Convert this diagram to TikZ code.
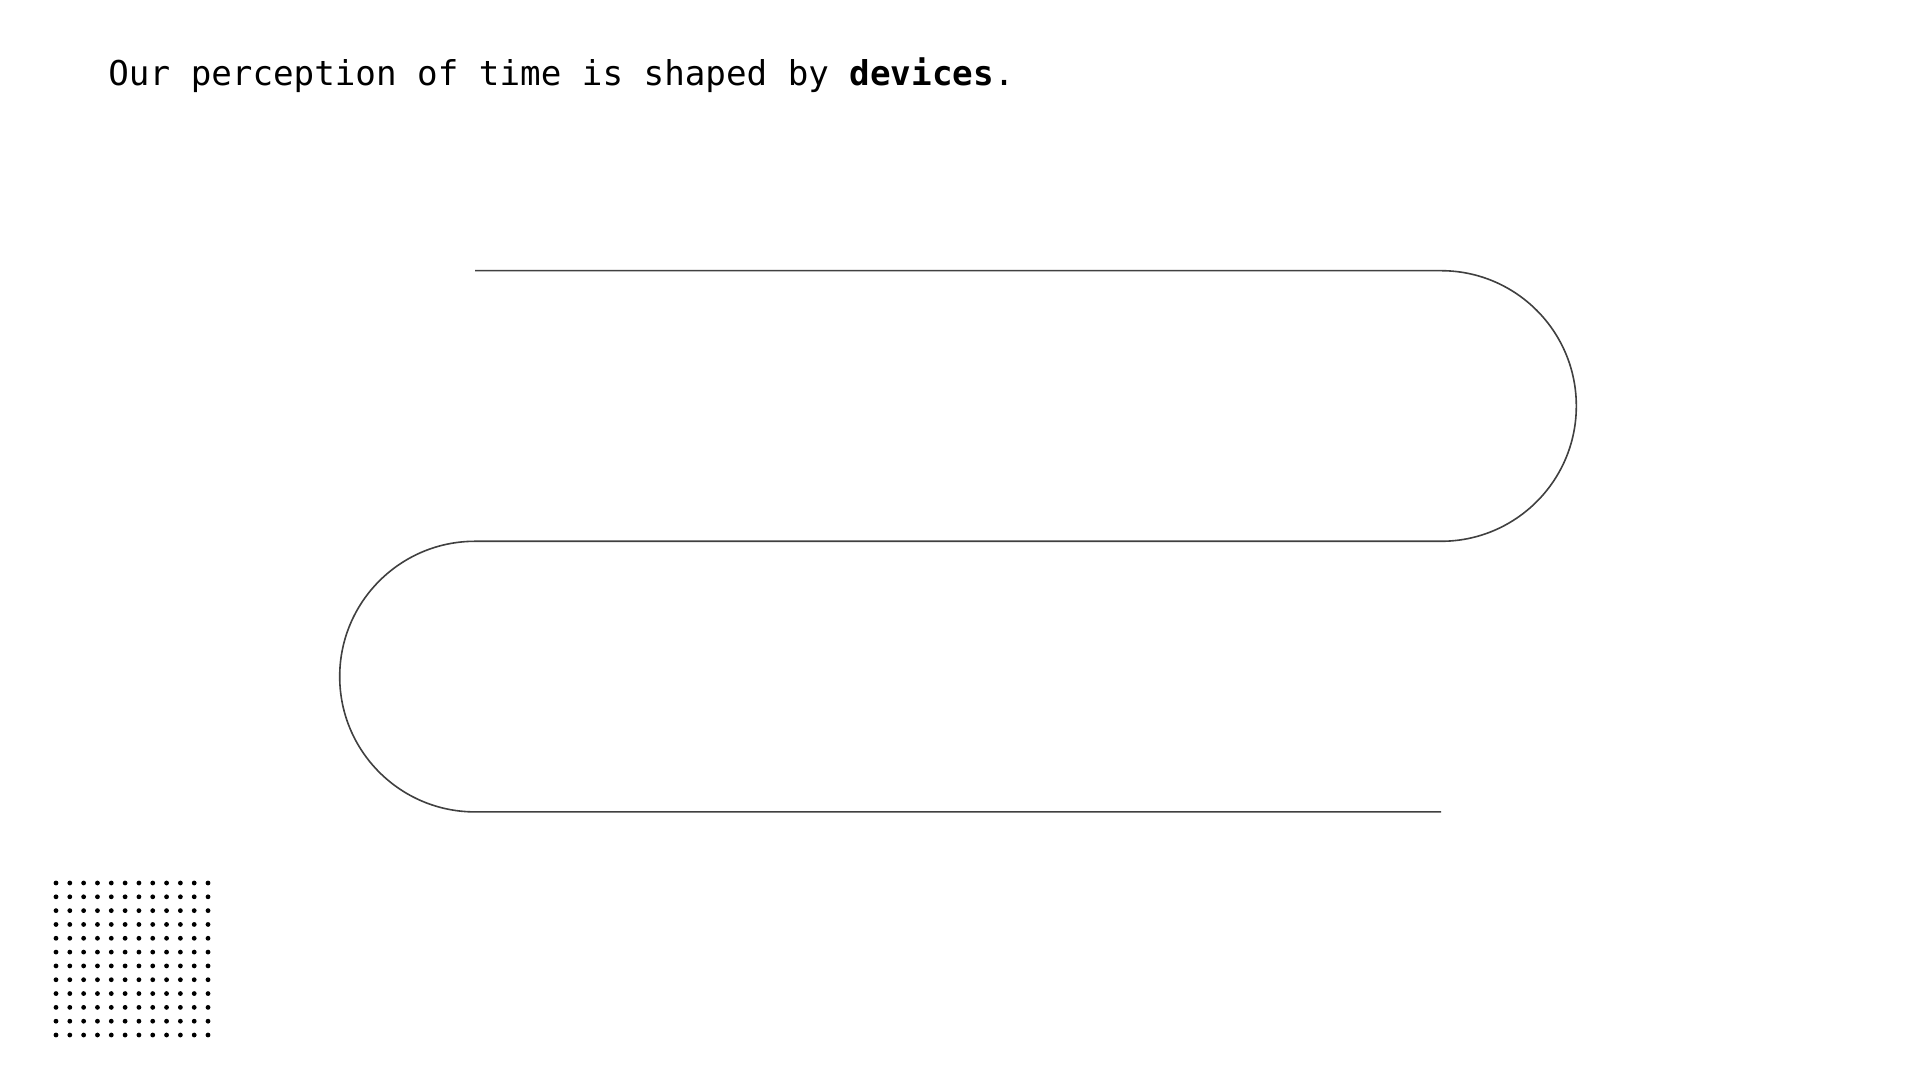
\documentclass[tikz,border=0pt]{standalone}
\usepackage{fontspec}
\setmonofont{DejaVu Sans Mono}
\begin{document}
\begin{tikzpicture}[x=0.5pt,y=0.5pt,
  wave/.style={draw=black!75,line width=0.8pt},
  dotmark/.style={fill=black},
  title/.style={anchor=base west,inner sep=0pt,font=\fontsize{17.1pt}{20pt}\ttfamily}]
\useasboundingbox[fill=white] (0,0) rectangle (1920,1080);
\node[title] (t) at (108,994) {Our perception of time is shaped by \textbf{devices}.};
\coordinate (s) at (475,809.3);
\coordinate (a) at (1441,809.3);
\coordinate (b) at (475,538.7);
\coordinate (e) at (1441,268.1);
\draw[wave] (s) -- (a) arc (90:-90:135.3) -- (b) arc (90:270:135.3) -- (e);
\foreach \i in {0,...,11}{
  \foreach \j in {0,...,11}{
    \fill[dotmark] ({56+13.82*\i},{1080-(883+13.82*\j)}) circle (2.4);
  }
}
\end{tikzpicture}
\end{document}
